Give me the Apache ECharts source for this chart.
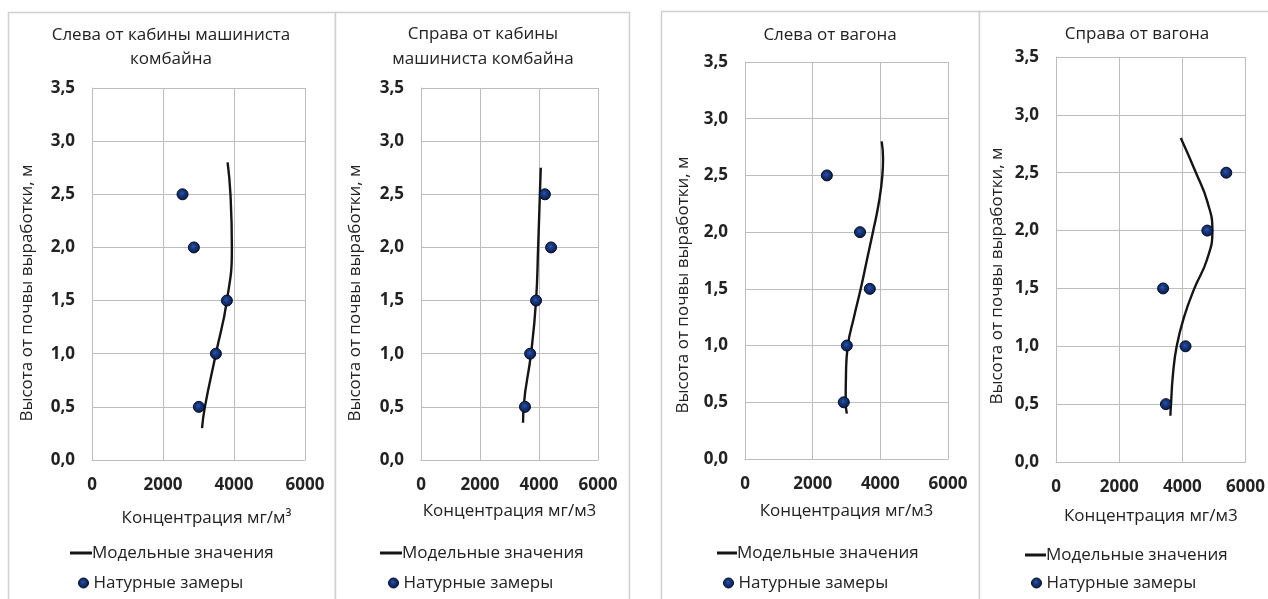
<!DOCTYPE html>
<html>
<head>
<meta charset="utf-8">
<script src="https://cdn.jsdelivr.net/npm/echarts@6/dist/echarts.min.js"></script>
<style>
  html, body { margin: 0; padding: 0; background: #ffffff; }
  #chart { width: 1268px; height: 599px; }
</style>
</head>
<body>
<div id="chart"></div>
<script>
// ---- Data ----
const panelTitles = [
  ['Слева от кабины машиниста', 'комбайна'],
  ['Справа от кабины', 'машиниста комбайна'],
  ['Слева от вагона'],
  ['Справа от вагона']
];
const xAxisNames = ['Концентрация мг/м³', 'Концентрация мг/м3', 'Концентрация мг/м3', 'Концентрация мг/м3'];
const yAxisName = 'Высота от почвы выработки, м';
const seriesNames = ['Модельные значения', 'Натурные замеры'];
const xTicks = ['0', '2000', '4000', '6000'];
const yTicks = ['0,0', '0,5', '1,0', '1,5', '2,0', '2,5', '3,0', '3,5'];

// measured heights (m) shared by all four locations
const measuredHeights = [0.5, 1.0, 1.5, 2.0, 2.5];
const measured1 = [3010, 3490, 3800, 2870, 2550];
const measured2 = [3525, 3700, 3900, 4410, 4200];
const measured3 = [2920, 3010, 3690, 3400, 2420];
const measured4 = [3480, 4100, 3390, 4790, 5390];

// model profiles: heights (m) and concentrations (mg/m3)
const modelHeights1 = [0.3, 0.5, 1.0, 1.5, 2.0, 2.5, 2.8];
const model1 = [3100, 3180, 3490, 3800, 3940, 3900, 3820];
const modelHeights2 = [0.35, 0.5, 1.0, 1.5, 2.0, 2.5, 2.75];
const model2 = [3460, 3480, 3730, 3900, 3970, 4030, 4060];
const modelHeights3 = [0.4, 0.5, 0.75, 1.0, 1.25, 1.5, 1.75, 2.0, 2.25, 2.5, 2.65, 2.8];
const model3 = [3010, 2975, 2985, 3040, 3220, 3420, 3600, 3780, 3950, 4060, 4080, 4040];
const modelHeights4 = [0.4, 0.5, 0.75, 1.0, 1.25, 1.5, 1.75, 2.0, 2.25, 2.5, 2.8];
const model4 = [3620, 3640, 3700, 3820, 4050, 4380, 4780, 4950, 4790, 4430, 3950];

const measuredSets = [measured1, measured2, measured3, measured4];
const modelSets = [[modelHeights1, model1], [modelHeights2, model2], [modelHeights3, model3], [modelHeights4, model4]];

// ---- Layout of the four panels ----
const layout = [
  { grid: { left: 92, top: 88, width: 213, height: 372 }, frame: [8, 12, 327], titleX: 171, titleY: [35, 59],
    yName: [27, 293], xNameGap: 50, xNameShift: 16, legendLine: 70, legendLineW: 22, legendDot: 78, legendY: [553, 583] },
  { grid: { left: 421, top: 88, width: 177, height: 372 }, frame: [335, 12, 294], titleX: 483, titleY: [34, 59],
    yName: [355, 293], xNameGap: 43, xNameShift: 0, legendLine: 380, legendLineW: 22, legendDot: 388, legendY: [553, 583] },
  { grid: { left: 745, top: 62, width: 203, height: 397 }, frame: [661, 11, 318], titleX: 830, titleY: [35],
    yName: [683, 285], xNameGap: 44, xNameShift: 0, legendLine: 717, legendLineW: 20, legendDot: 723, legendY: [553, 583] },
  { grid: { left: 1056, top: 57, width: 191, height: 405 }, frame: [979, 11, 300], titleX: 1137, titleY: [34],
    yName: [997, 276], xNameGap: 46, xNameShift: 0, legendLine: 1025, legendLineW: 21, legendDot: 1031, legendY: [555, 583] }
];

const FONT = '"Open Sans", "Noto Sans", sans-serif';
const TEXT = '#222222';
const GRIDLINE = '#bdbdbd';
const FS = 17;

// dark navy marker with a small highlight
const dotStyle = {
  opacity: 1,
  color: {
    type: 'radial', x: 0.45, y: 0.42, r: 0.55,
    colorStops: [{ offset: 0, color: '#2c58aa' }, { offset: 0.35, color: '#173a82' }, { offset: 1, color: '#0b1c50' }]
  },
  borderColor: '#040a1e',
  borderWidth: 1
};

const grids = [], xAxes = [], yAxes = [], series = [], legends = [], graphics = [];

layout.forEach((p, i) => {
  grids.push(Object.assign({ containLabel: false }, p.grid));

  xAxes.push({
    type: 'value', gridIndex: i, min: 0, max: 6000, interval: 2000,
    name: xAxisNames[i], nameLocation: 'middle', nameGap: p.xNameGap,
    nameTextStyle: { fontFamily: FONT, fontSize: FS, color: TEXT, padding: [0, 0, 0, p.xNameShift] },
    axisLine: { show: true, lineStyle: { color: GRIDLINE, width: 1 } },
    axisTick: { show: false },
    axisLabel: {
      margin: 17, fontFamily: FONT, fontSize: FS, fontWeight: 'bold', color: TEXT,
      formatter: v => xTicks[Math.round(v / 2000)]
    },
    splitLine: { show: true, lineStyle: { color: GRIDLINE, width: 1 } }
  });

  yAxes.push({
    type: 'value', gridIndex: i, min: 0, max: 3.5, interval: 0.5,
    axisLine: { show: true, lineStyle: { color: GRIDLINE, width: 1 } },
    axisTick: { show: false },
    axisLabel: {
      margin: 17, fontFamily: FONT, fontSize: FS, fontWeight: 'bold', color: TEXT,
      formatter: v => yTicks[Math.round(v / 0.5)]
    },
    splitLine: { show: true, lineStyle: { color: GRIDLINE, width: 1 } }
  });

  const [mh, mv] = modelSets[i];
  series.push({
    name: seriesNames[0], type: 'line', xAxisIndex: i, yAxisIndex: i,
    data: mh.map((h, k) => [mv[k], h]),
    smooth: 0.5, showSymbol: false, symbol: 'none',
    lineStyle: { color: '#151515', width: 2.4 },
    itemStyle: { color: '#151515' },
    z: 2
  });
  series.push({
    name: seriesNames[1], type: 'scatter', xAxisIndex: i, yAxisIndex: i,
    data: measuredHeights.map((h, k) => [measuredSets[i][k], h]),
    symbol: 'circle', symbolSize: 11,
    itemStyle: dotStyle,
    z: 3
  });

  // legend entries, one block per panel; the model entry's text sits right against its line
  legends.push({
    left: p.legendLine, top: p.legendY[0] - 11, orient: 'vertical', padding: 0,
    itemWidth: p.legendLineW, itemHeight: 3, selectedMode: false,
    data: [{ name: seriesNames[0], icon: 'rect', itemStyle: { color: '#151515' } }],
    textStyle: { fontFamily: FONT, fontSize: FS, color: TEXT, lineHeight: 22, padding: [0, 0, 0, -5] }
  });
  legends.push({
    left: p.legendDot, top: p.legendY[1] - 11, orient: 'vertical', padding: 0,
    itemWidth: 10, itemHeight: 10, selectedMode: false,
    data: [{ name: seriesNames[1], icon: 'circle', itemStyle: dotStyle }],
    textStyle: { fontFamily: FONT, fontSize: FS, color: TEXT, lineHeight: 22 }
  });

  // panel frame
  graphics.push({
    type: 'rect', silent: true, z: -10,
    shape: { x: p.frame[0] + 0.5, y: p.frame[1] + 0.5, width: p.frame[2], height: 620 },
    style: { fill: '#ffffff', stroke: '#d0d0d0', lineWidth: 1.5 }
  });

  // title lines
  panelTitles[i].forEach((line, k) => {
    graphics.push({
      type: 'text', silent: true, x: p.titleX, y: p.titleY[k],
      style: { text: line, font: FS + 'px ' + FONT, fill: TEXT, align: 'center', verticalAlign: 'middle' }
    });
  });

  // vertical axis title
  graphics.push({
    type: 'text', silent: true, x: p.yName[0], y: p.yName[1], rotation: Math.PI / 2,
    style: { text: yAxisName, font: FS + 'px ' + FONT, fill: TEXT, align: 'center', verticalAlign: 'middle' }
  });
});

const chart = echarts.init(document.getElementById('chart'), null, { renderer: 'canvas' });
chart.setOption({
  backgroundColor: '#ffffff',
  animation: false,
  textStyle: { fontFamily: FONT },
  grid: grids,
  xAxis: xAxes,
  yAxis: yAxes,
  legend: legends,
  graphic: graphics,
  series: series
});
</script>
</body>
</html>
